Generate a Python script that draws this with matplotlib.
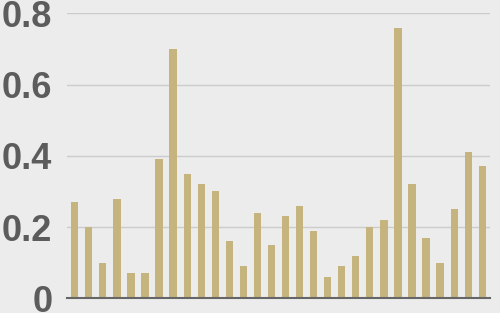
import matplotlib
matplotlib.use("Agg")
import matplotlib.pyplot as plt
import numpy as np

values = [0.27, 0.20, 0.10, 0.28, 0.07, 0.07, 0.39, 0.70, 0.35, 0.32,
          0.30, 0.16, 0.09, 0.24, 0.15, 0.23, 0.26, 0.19, 0.06, 0.09,
          0.12, 0.20, 0.22, 0.76, 0.32, 0.17, 0.10, 0.25, 0.41, 0.37]
yticks = [0, 0.2, 0.4, 0.6, 0.8]
ytick_labels = ["0", "0.2", "0.4", "0.6", "0.8"]

bg = "#ececec"
fig = plt.figure(figsize=(5, 3.13), dpi=100, facecolor=bg)
ax = fig.add_axes([67/500, 1 - 298.3/313, (490-67)/500, (298.3-13.3)/313])
ax.set_facecolor(bg)

x = np.arange(len(values))
ax.bar(x, values, width=0.52, color="#c6b47f", zorder=2)
ax.set_xlim(-0.55, len(values) - 0.45)
ax.set_ylim(0, 0.8)
ax.set_yticks(yticks)
ax.set_yticklabels(ytick_labels, fontfamily="Liberation Sans", fontweight="bold",
                   fontsize=26, color="#5c5c5c")
ax.set_xticks([])
ax.tick_params(axis="y", length=0, pad=10.5)
ax.grid(axis="y", color="#cccccc", linewidth=1, zorder=0)
for s in ["top", "right", "left"]:
    ax.spines[s].set_visible(False)
ax.spines["bottom"].set_color("#666666")
ax.spines["bottom"].set_linewidth(1.5)
ax.spines["bottom"].set_zorder(3)

fig.savefig("out.png", dpi=100, facecolor=bg)
